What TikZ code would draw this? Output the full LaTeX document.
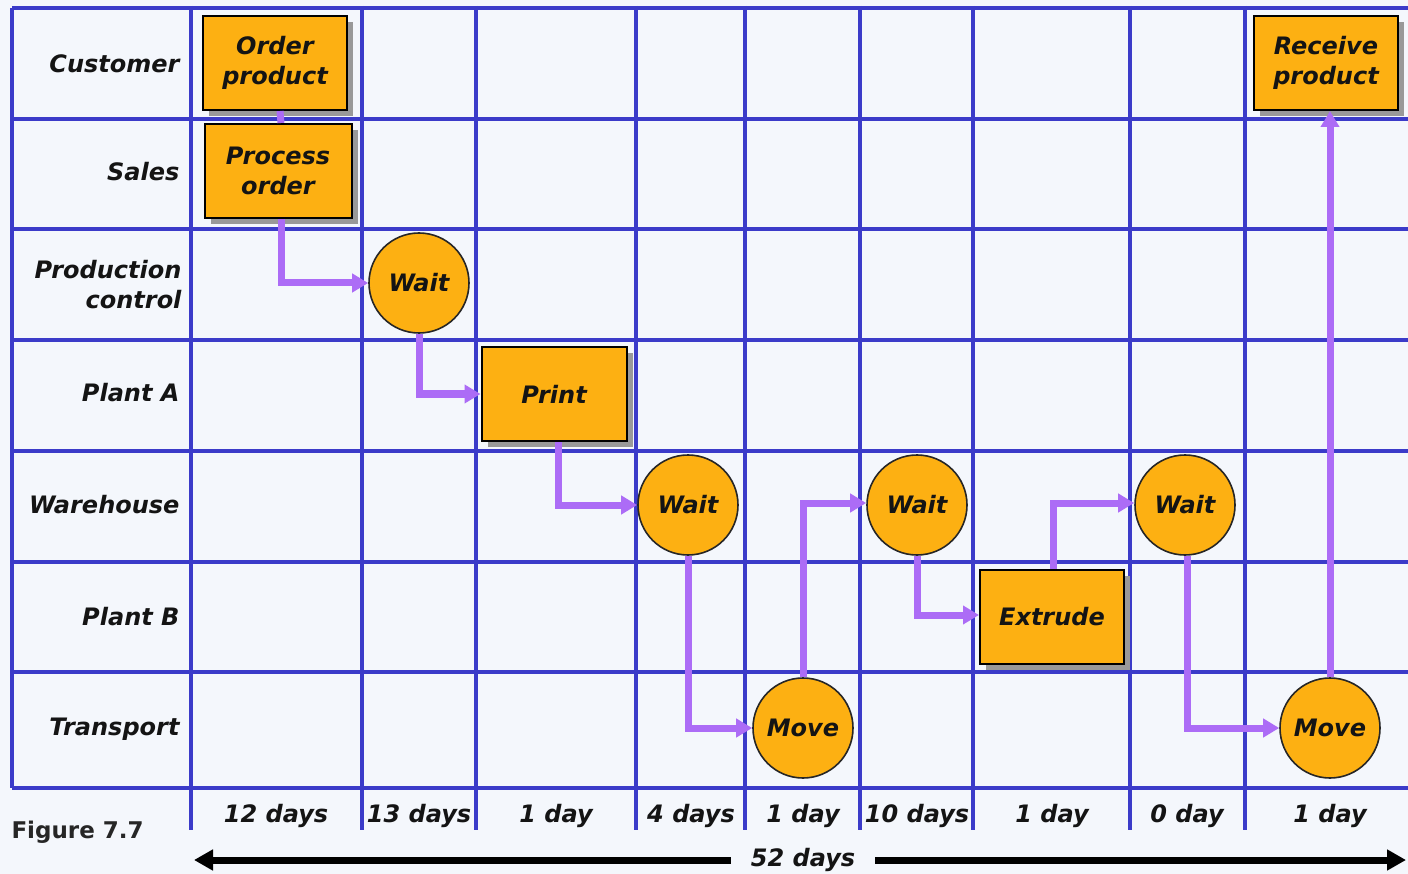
\documentclass[tikz,border=0pt]{standalone}
\usepackage{fontspec}
\setmainfont{DejaVu Sans}
\usetikzlibrary{arrows.meta,shadows}

\definecolor{bg}{HTML}{F4F7FC}
\definecolor{gridblue}{HTML}{3B3BC9}
\definecolor{boxorange}{HTML}{FDB012}
\definecolor{flow}{HTML}{AC6CF6}
\definecolor{ink}{HTML}{141414}

\tikzset{
  gridline/.style={draw=gridblue, line width=4.5pt, line cap=square},
  txt/.style={font=\fontsize{24}{30}\selectfont\bfseries\itshape, text=ink},
  rowlbl/.style={txt, anchor=east, align=right},
  daylbl/.style={txt},
  stepbox/.style={txt, rectangle, draw=black, line width=2pt, fill=boxorange,
    minimum width=144pt, minimum height=94pt, align=center, inner sep=0pt,
    drop shadow={shadow xshift=6pt, shadow yshift=-6pt, fill=black!40, opacity=1}},
  stepcirc/.style={txt, circle, draw=black!85, line width=1.6pt, fill=boxorange,
    minimum size=100pt, inner sep=0pt},
  flowline/.style={draw=flow, line width=7pt},
  flowarrow/.style={flowline, -{Triangle[length=16pt,width=18pt]}},
  bigarrow/.style={draw=black, line width=7pt, -{Triangle[length=19pt,width=20pt]}}
}

\begin{document}
\begin{tikzpicture}[x=1pt,y=-1pt]
\useasboundingbox (0,0) rectangle (1408,874);
\fill[bg] (0,0) rectangle (1408,874);

% grid
\foreach \yy in {8,119,229,340,451,562,672,788}
  \draw[gridline] (12,\yy) -- (1412,\yy);
\draw[gridline] (12,8) -- (12,788);
\foreach \xx in {191,362,476,636,745,860,973,1130,1245}
  \draw[gridline, line cap=butt] (\xx,6) -- (\xx,830);

% row labels
\node[rowlbl] (rCust) at (183,64) {Customer};
\node[rowlbl] (rSales) at (183,172) {Sales};
\node[rowlbl] (rProd) at (185,285) {Production\\control};
\node[rowlbl] (rPlantA) at (183,393) {Plant A};
\node[rowlbl] (rWare) at (183,505) {Warehouse};
\node[rowlbl] (rPlantB) at (183,617) {Plant B};
\node[rowlbl] (rTrans) at (183,729) {Transport};

% flow nodes
\node[stepbox] (order) at (275,63) {Order\\product};
\node[stepbox, minimum width=147pt] (process) at (278,171) {Process\\order};
\node[stepcirc] (waitp) at (419,283) {Wait};
\node[stepbox, minimum width=145pt] (print) at (554,394) {Print};
\node[stepcirc] (wait1) at (688,505) {Wait};
\node[stepcirc] (wait2) at (917,505) {Wait};
\node[stepcirc] (wait3) at (1185,505) {Wait};
\node[stepbox] (extrude) at (1052,617) {Extrude};
\node[stepcirc] (move1) at (803,728) {Move};
\node[stepcirc] (move2) at (1330,728) {Move};
\node[stepbox] (receive) at (1326,63) {Receive\\product};

% connectors
\draw[flowline] ([xshift=5pt]order.south) -- ([xshift=3pt]process.north);
\draw[flowarrow] ([xshift=3pt]process.south) |- (waitp.west);
\draw[flowarrow] (waitp.south) |- (print.west);
\draw[flowarrow] ([xshift=4pt]print.south) |- (wait1.west);
\draw[flowarrow] (wait1.south) |- (move1.west);
\draw[flowarrow] (move1.north) |- ([yshift=2pt]wait2.west);
\draw[flowarrow] (wait2.south) |- ([yshift=2pt]extrude.west);
\draw[flowarrow] ([xshift=1pt]extrude.north) |- ([yshift=2pt]wait3.west);
\draw[flowarrow] ([xshift=2pt]wait3.south) |- (move2.west);
\draw[flowarrow] (move2.north) -- (move2.north |- receive.south);

% durations
\node[daylbl] (d1) at (276,816) {12 days};
\node[daylbl] (d2) at (419,816) {13 days};
\node[daylbl] (d3) at (556,816) {1 day};
\node[daylbl] (d4) at (691,816) {4 days};
\node[daylbl] (d5) at (803,816) {1 day};
\node[daylbl] (d6) at (917,816) {10 days};
\node[daylbl] (d7) at (1052,816) {1 day};
\node[daylbl] (d8) at (1187,816) {0 day};
\node[daylbl] (d9) at (1330,816) {1 day};

% figure label
\node[font=\fontsize{23}{28}\selectfont\bfseries, text=black!85, anchor=west] (fig) at (8,832) {Figure 7.7};

% total
\coordinate (aL) at (194,860);
\coordinate (aR) at (1406,860);
\node[daylbl, inner xsep=20pt] (total) at (803,860) {52 days};
\draw[bigarrow] (total.west) -- (aL);
\draw[bigarrow] (total.east) -- (aR);
\end{tikzpicture}
\end{document}
